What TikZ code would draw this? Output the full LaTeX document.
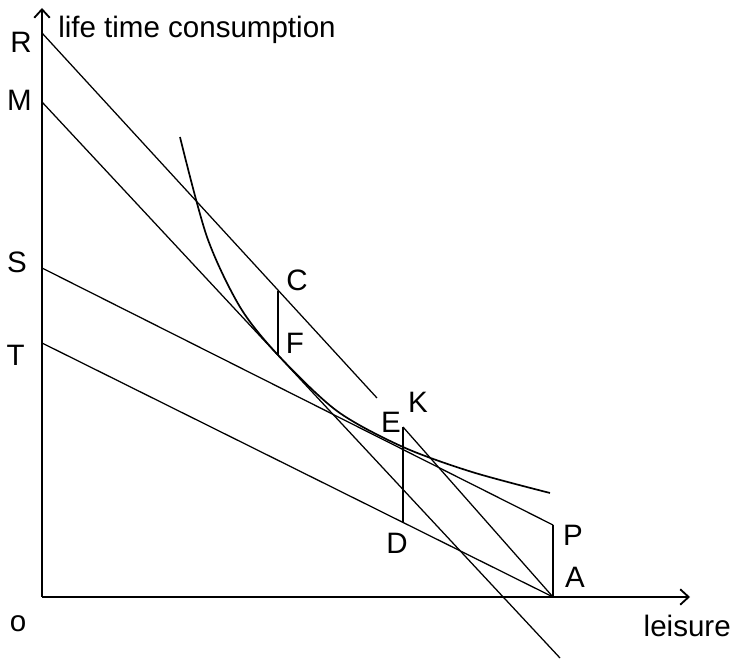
\documentclass[tikz,border=0pt]{standalone}
\usepackage{fontspec}
\setmainfont{Liberation Sans}
\usetikzlibrary{arrows.meta}
\tikzset{
  axis/.style={line width=1.3pt, -{Straight Barb[length=6pt,width=11pt]}},
  budget/.style={line width=0.9pt},
  gap/.style={line width=1.3pt},
  indiff/.style={line width=1.2pt},
  lab/.style={font=\fontsize{21}{25}\selectfont, inner sep=0pt}
}

\begin{document}
\begin{tikzpicture}[x=0.025cm, y=0.025cm]
\useasboundingbox (-42,-65) rectangle (694,597);
% axes
\coordinate (O) at (0,0);
\coordinate (ytop) at (0,589);
\coordinate (xend) at (648,0);
\draw[axis] (O) -- (ytop);
\draw[axis] (O) -- (xend);
% intercepts and points
\coordinate (R) at (0,564);
\coordinate (M) at (0,495);
\coordinate (S) at (0,329);
\coordinate (T) at (0,254);
\coordinate (A) at (511,0);
\coordinate (P) at (511,72);
\coordinate (C) at (236,306);
\coordinate (F) at (236,242);
\coordinate (E) at (361,170);
\coordinate (D) at (361,75);
\coordinate (Rend) at (335,199);
\coordinate (Mend) at (518,-61);
% budget lines
\draw[budget] (R) -- (Rend);
\draw[budget] (M) -- (Mend);
\draw[budget] (S) -- (P);
\draw[budget] (T) -- (A);
\draw[budget] (E) -- (A);
% gaps
\draw[gap] (C) -- (F);
\draw[gap] (E) -- (D);
\draw[gap] (P) -- (A);
% indifference curve
\draw[indiff] plot[smooth] coordinates {(138,460) (165,360) (198,290) (236,242) (295,186) (361,150) (430,125) (508,104)};
% labels
\node[lab, anchor=base west] (ylab) at (16,559) {life time consumption};
\node[lab, anchor=base east] (xlab) at (689,-40) {leisure};
\node[lab] (lo) at (-24,-27) {o};
\node[lab, anchor=east] (lR) at (-10,555) {R};
\node[lab, anchor=east] (lM) at (-10,497) {M};
\node[lab, anchor=east] (lS) at (-15,335) {S};
\node[lab, anchor=east] (lT) at (-17,242) {T};
\node[lab] (lC) at (255,317) {C};
\node[lab] (lF) at (253,254) {F};
\node[lab] (lE) at (349,175) {E};
\node[lab] (lK) at (376,195) {K};
\node[lab] (lD) at (355,54) {D};
\node[lab] (lP) at (531,62) {P};
\node[lab] (lA) at (533,20) {A};
\end{tikzpicture}
\end{document}
